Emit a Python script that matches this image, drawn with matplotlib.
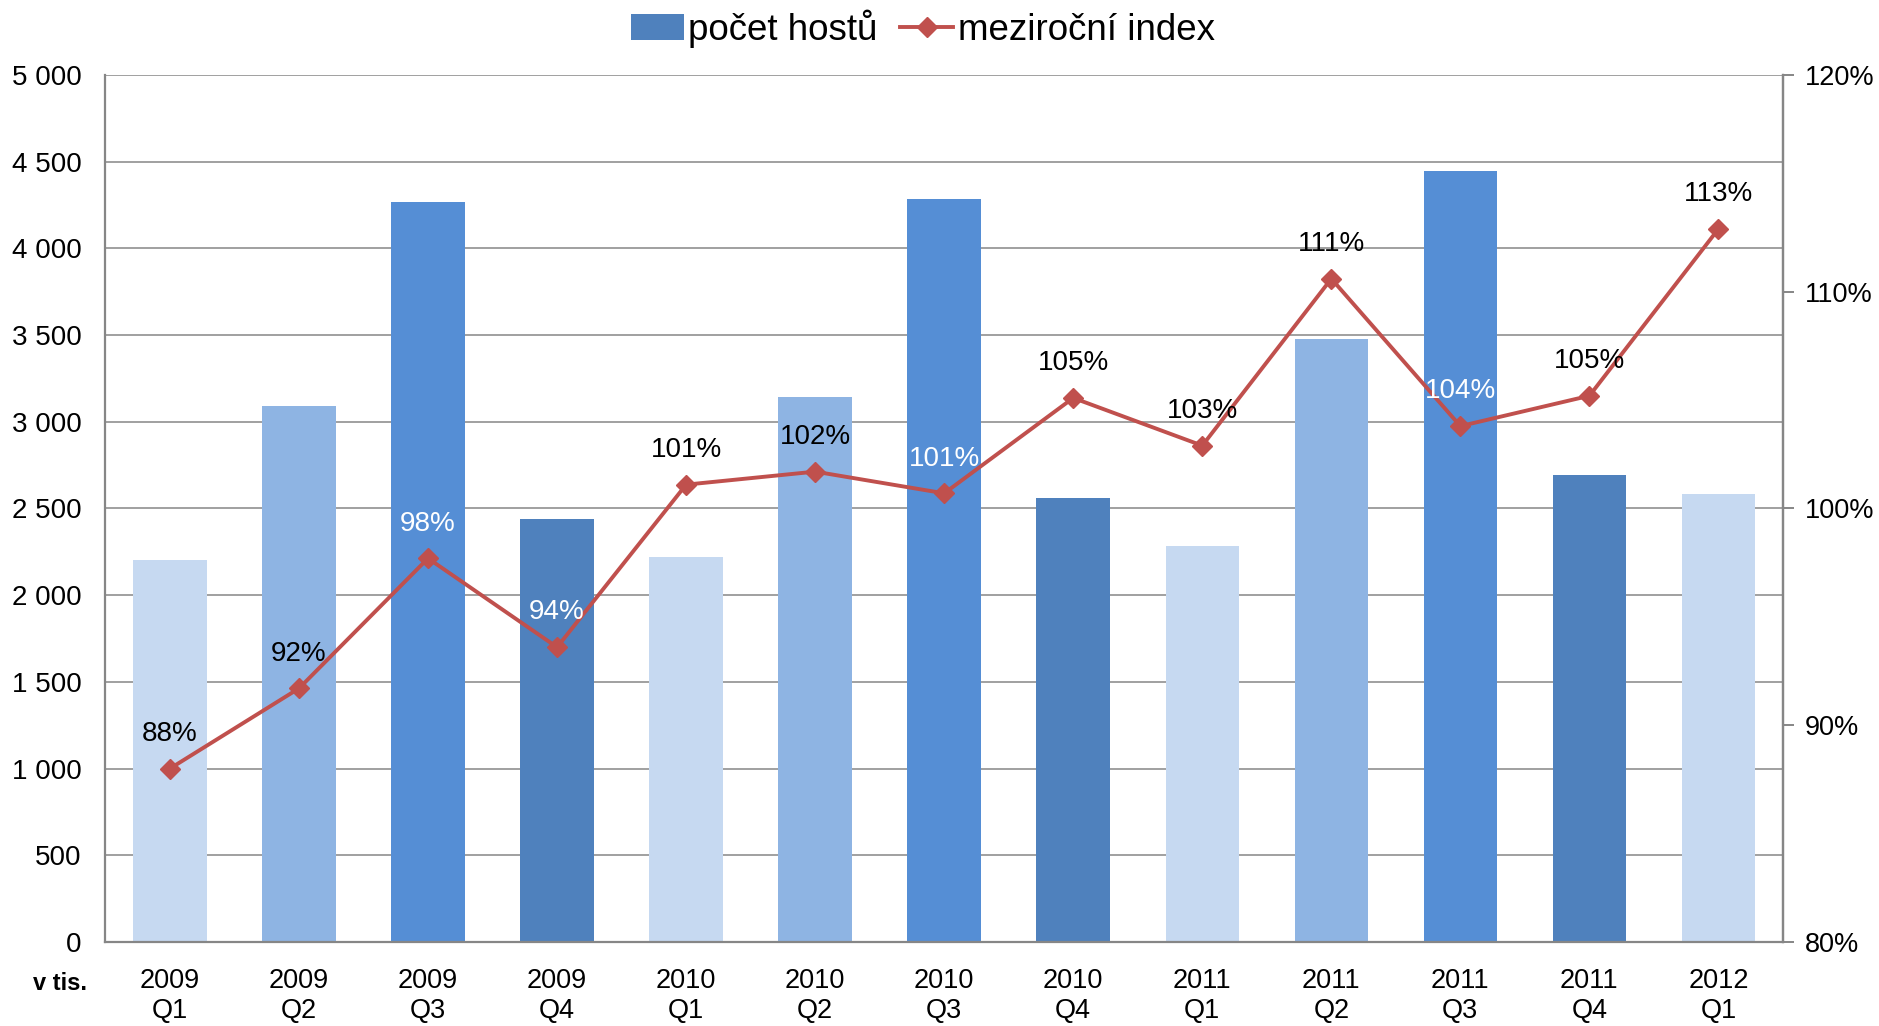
import matplotlib
matplotlib.use("Agg")
import matplotlib.pyplot as plt
from matplotlib.ticker import FuncFormatter, MultipleLocator
from matplotlib.lines import Line2D
from matplotlib.patches import Patch

years = ["2009", "2009", "2009", "2009", "2010", "2010", "2010", "2010",
         "2011", "2011", "2011", "2011", "2012"]
quarters = ["Q1", "Q2", "Q3", "Q4", "Q1", "Q2", "Q3", "Q4",
            "Q1", "Q2", "Q3", "Q4", "Q1"]
guests = [2202, 3089, 4266, 2438, 2223, 3144, 4287, 2562, 2285, 3476, 4446, 2694, 2583]
index_pct = [88.0, 91.7, 97.7, 93.6, 101.1, 101.7, 100.7, 105.1, 102.9, 110.6, 103.8, 105.2, 112.9]
label_colors = ["black", "black", "white", "white", "black", "black", "white",
                "black", "black", "black", "white", "black", "black"]
quarter_colors = {"Q1": "#C6D9F1", "Q2": "#8EB4E3", "Q3": "#558ED5", "Q4": "#4F81BD"}

line_color = "#C0504D"
grid_color = "#868686"
narrow = ["Liberation Sans Narrow", "Liberation Sans", "DejaVu Sans"]
regular = ["Liberation Sans", "DejaVu Sans"]

fig = plt.figure(figsize=(18.79, 10.26), dpi=100)
ax = fig.add_axes([0.0561, 0.0819, 0.8928, 0.845])
x = list(range(len(guests)))
bar_cols = [quarter_colors[q] for q in quarters]
ax.bar(x, guests, width=0.57, color=bar_cols, zorder=2)
ax.set_xlim(-0.5, len(guests) - 0.5)
ax.set_ylim(0, 5000)
ax.yaxis.set_major_locator(MultipleLocator(500))
ax.yaxis.set_major_formatter(FuncFormatter(lambda v, p: f"{int(v):,}".replace(",", " ")))
ax.grid(axis="y", color=grid_color, lw=1.1, zorder=0)
ax.set_axisbelow(True)
ax.spines["top"].set_visible(False)
for s in ["left", "bottom", "right"]:
    ax.spines[s].set_color(grid_color)
    ax.spines[s].set_linewidth(1.6)
ax.set_xticks(x)
ax.set_xticklabels([f"{y}\n{q}" for y, q in zip(years, quarters)],
                   fontfamily=narrow, fontsize=19.5, linespacing=1.2)
ax.tick_params(axis="x", length=0, pad=19)
ax.tick_params(axis="y", length=0, pad=17, labelsize=20)
for t in ax.get_yticklabels():
    t.set_fontfamily(regular)

ax2 = ax.twinx()
ax2.set_ylim(80, 120)
ax2.yaxis.set_major_locator(MultipleLocator(10))
ax2.yaxis.set_major_formatter(FuncFormatter(lambda v, p: f"{int(v)}%"))
ax2.plot(x, index_pct, color=line_color, lw=2.8, marker="D", markersize=10, zorder=3)
for s in ["top", "left", "bottom"]:
    ax2.spines[s].set_visible(False)
ax2.spines["right"].set_color(grid_color)
ax2.spines["right"].set_linewidth(1.6)
ax2.tick_params(axis="y", length=8, width=1.4, color=grid_color, pad=8, labelsize=19.5)
for t in ax2.get_yticklabels():
    t.set_fontfamily(regular)

for xi, v, c in zip(x, index_pct, label_colors):
    ax2.annotate(f"{v:.0f}%", (xi, v), xytext=(0, 25), textcoords="offset points",
                 ha="center", va="center", fontsize=20, color=c, fontfamily=narrow, zorder=4)

fig.text(0.032, 0.041, "v tis.", fontsize=17, fontweight="bold", fontfamily=narrow,
         ha="center", va="center")

handles = [Patch(facecolor="#4F81BD", edgecolor="none"),
           Line2D([0], [0], color=line_color, lw=2.8, marker="D", markersize=10)]
fig.legend(handles, ["počet hostů", "meziroční index"], loc="center",
           bbox_to_anchor=(0.491, 0.972), ncol=2, frameon=False,
           prop={"family": narrow, "size": 26.5}, handlelength=1.45,
           handletextpad=0.12, columnspacing=0.6)

fig.savefig("out.png", dpi=100)
